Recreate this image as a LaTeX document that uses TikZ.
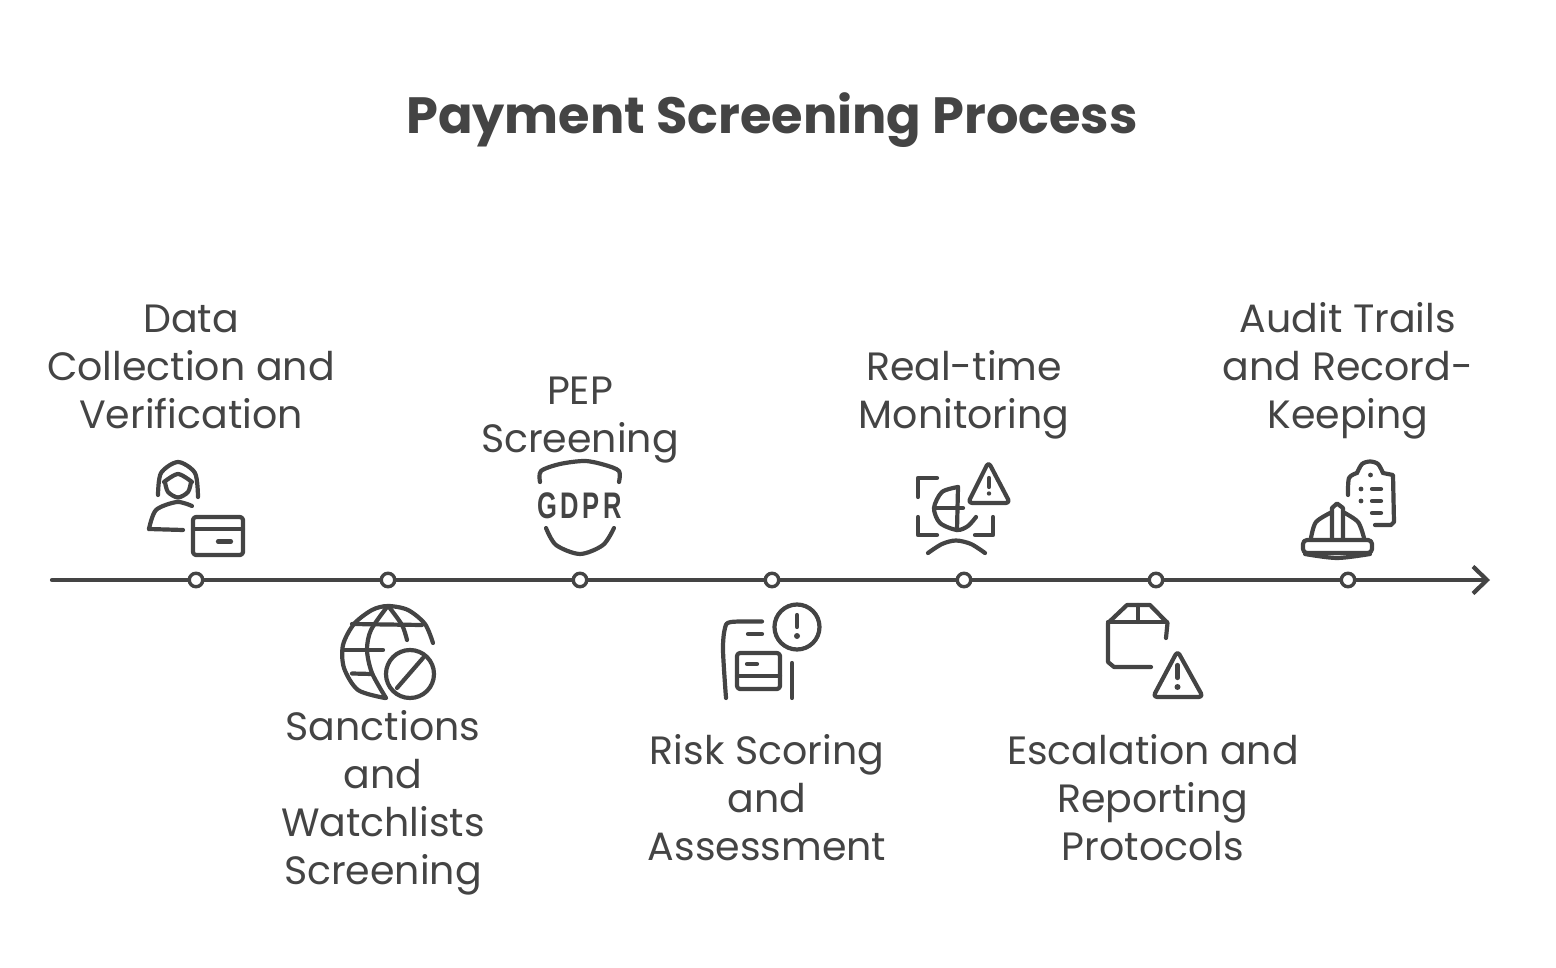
\documentclass[tikz,border=0pt]{standalone}
\usepackage{fontspec}
\setmainfont{Poppins}
\newfontfamily\gdprfont[LetterSpace=14]{Liberation Sans}
\usepackage{tikz}
\usetikzlibrary{positioning, arrows.meta}
\definecolor{ink}{HTML}{444444}
\tikzstyle{heading} = [text=ink, font=\fontsize{51}{60}\selectfont\bfseries, inner sep=0pt]
\tikzstyle{caption} = [text=ink, font=\fontsize{39.5}{48}\selectfont, align=center, inner sep=0pt]
\tikzstyle{marker} = [circle, draw=ink, fill=white, line width=3.4pt, minimum size=13.5pt, inner sep=0pt, node distance=192pt]
\tikzstyle{axisline} = [draw=ink, line width=4.2pt, line cap=round]
\tikzstyle{icon} = [draw=ink, line width=4.2pt, line cap=round, line join=round]

\begin{document}
\begin{tikzpicture}[x=1pt, y=-1pt]
        \useasboundingbox (0,0) rectangle (1556,968);

        \node (title) [heading] at (772,120) {Payment Screening Process};

        \coordinate (axisstart) at (52,580);
        \coordinate (axisend) at (1490,580);
        \node (d1) [marker] at (196,580) {};
        \node (d2) [marker, right of=d1] {};
        \node (d3) [marker, right of=d2] {};
        \node (d4) [marker, right of=d3] {};
        \node (d5) [marker, right of=d4] {};
        \node (d6) [marker, right of=d5] {};
        \node (d7) [marker, right of=d6] {};

        \node (l1) [caption, above of=d1, node distance=213pt, xshift=-5pt] {Data\\Collection and\\Verification};
        \node (l2) [caption, below of=d2, node distance=223pt, xshift=-5pt] {Sanctions\\and\\Watchlists\\Screening};
        \node (l3) [caption, above of=d3, node distance=160pt] {PEP\\Screening};
        \node (l4) [caption, below of=d4, node distance=218pt, xshift=-5pt] {Risk Scoring\\and\\Assessment};
        \node (l5) [caption, above of=d5, node distance=185pt] {Real-time\\Monitoring};
        \node (l6) [caption, below of=d6, node distance=218pt, xshift=-3pt] {Escalation and\\Reporting\\Protocols};
        \node (l7) [caption, above of=d7, node distance=209pt] {Audit Trails\\and Record-\\Keeping};

        % Data collection icon
        \draw [icon] plot[smooth] coordinates {(165,482) (168,492) (178,497.5) (188,492) (191,482)};
        \draw [icon] plot[smooth] coordinates {(158,495) (161,473) (178,462) (195,473) (198,497)};
        \draw [icon] plot[smooth] coordinates {(164,482) (178,474) (192,482)};
        \draw [icon] plot[smooth] coordinates {(192,506) (177,502) (156,510) (149,529)};
        \draw [icon] (149,529) -- (183,530);
        \draw [icon, rounded corners=3pt] (193,517) rectangle (243,555);
        \draw [icon] (193,529) -- (243,529);
        \draw [icon] (218,541.5) -- (231,541.5);

        % Globe icon
        \draw [icon] plot[smooth] coordinates {(385,698) (358,690) (344,668) (343,645) (354,624) (372,610) (388,606) (408,610) (425,624) (433,643)};
        \draw [icon] plot[smooth] coordinates {(387,607) (371,630) (367,650) (372,673) (386,698)};
        \draw [icon] plot[smooth] coordinates {(389,607) (402,625) (407,640)};
        \draw [icon] (352,624) -- (422,625);
        \draw [icon] (344,650) -- (383,650);
        \draw [icon] (352,673.5) -- (372,674);
        \draw [icon] (410,674) circle (24pt);
        \draw [icon] (397,688) -- (423,658);

        % Shield icon
        \draw [icon] plot[smooth] coordinates {(540,482) (541,471) (560,464) (585,461) (605,465) (619,471) (619,482)};
        \draw [icon] plot[smooth] coordinates {(546,528) (556,545) (580,554) (603,545) (614,528)};
        \node (gdpr) [text=ink, font=\gdprfont\fontsize{37}{37}\selectfont\bfseries, xscale=0.69, transform shape] at (579.5,505.5) {GDPR};

        % Risk icon
        \draw [icon] plot[smooth] coordinates {(726,698) (723,650) (725,628) (731,622) (762,621.5)};
        \draw [icon] (748,634) -- (762,634);
        \draw [icon, rounded corners=3pt] (737,653) rectangle (780,689);
        \draw [icon] (737,676) -- (780,676);
        \draw [icon] (747,664) -- (757,664);
        \draw [icon] (792,663) -- (792,698);
        \draw [icon] (797,627) circle (22.5pt);
        \draw [icon] (797,615) -- (797,627);
        \fill [ink] (797,636) circle (3pt);

        % Monitoring icon
        \draw [icon] (937,478) -- (918,478) -- (918,497);
        \draw [icon] (918,517) -- (918,535) -- (937,535);
        \draw [icon] (993,517) -- (993,535) -- (975,535);
        \draw [icon] plot[smooth] coordinates {(958,487) (942,492) (934,508) (940,523) (957,530) (968,526) (976,517)};
        \draw [icon] (958,487) -- (957,530);
        \draw [icon] (935,508) -- (963,508);
        \draw [icon] plot[smooth] coordinates {(928,553) (942,544) (956,540.5) (971,544) (985,553)};
        \draw [icon, rounded corners=4pt] (988.5,462) -- (1010,503) -- (968,503) -- cycle;
        \draw [icon] (989,478) -- (989,487);
        \fill [ink] (989,493.5) circle (2.2pt);

        % Parcel icon
        \draw [icon] (1151,667) -- (1114,667) -- (1108,662) -- (1108,623) -- (1127,605) -- (1150,605) -- (1167.5,623) -- (1166,638);
        \draw [icon] (1108,622) -- (1167,622);
        \draw [icon] (1138,605) -- (1138,622);
        \draw [icon, rounded corners=4pt] (1177.5,651) -- (1203,697) -- (1153,697) -- cycle;
        \draw [icon] (1177.5,665) -- (1177.5,678);
        \fill [ink] (1177.5,687) circle (3pt);

        % Audit icon
        \draw [icon] plot[smooth] coordinates {(1348,495) (1349,478) (1357,473)};
        \draw [icon] plot[smooth] coordinates {(1357,473) (1362,464) (1370,461.5) (1378,464) (1383,473)};
        \draw [icon] (1383,473) -- (1393,475) -- (1394,522) -- (1391,525) -- (1375,525);
        \fill [ink] (1370.5,475) circle (2.4pt);
        \fill [ink] (1361,489) circle (2.4pt);
        \fill [ink] (1361,501) circle (2.4pt);
        \draw [icon] (1372,489) -- (1381,489);
        \draw [icon] (1372,501) -- (1381,501);
        \draw [icon] (1372,513) -- (1381,513);
        \draw [icon, rounded corners=4pt] (1303,540) rectangle (1372,553);
        \draw [icon] plot[smooth] coordinates {(1305,554) (1337,558) (1370,554)};
        \draw [icon] plot[smooth] coordinates {(1311,538) (1316,522) (1332,512)};
        \draw [icon] plot[smooth] coordinates {(1343,512) (1358,522) (1364,538)};
        \draw [icon] (1332,539) -- (1332,508) -- (1337,503.5) -- (1343,508) -- (1343,539);

        % Draw edges
        \path [axisline] (axisstart) -- (d1);
        \path [axisline] (d1) -- (d2);
        \path [axisline] (d2) -- (d3);
        \path [axisline] (d3) -- (d4);
        \path [axisline] (d4) -- (d5);
        \path [axisline] (d5) -- (d6);
        \path [axisline] (d6) -- (d7);
        \path [axisline, -{Straight Barb[length=14pt, width=27pt, line width=4.2pt]}] (d7) -- (axisend);

\end{tikzpicture}
\end{document}
